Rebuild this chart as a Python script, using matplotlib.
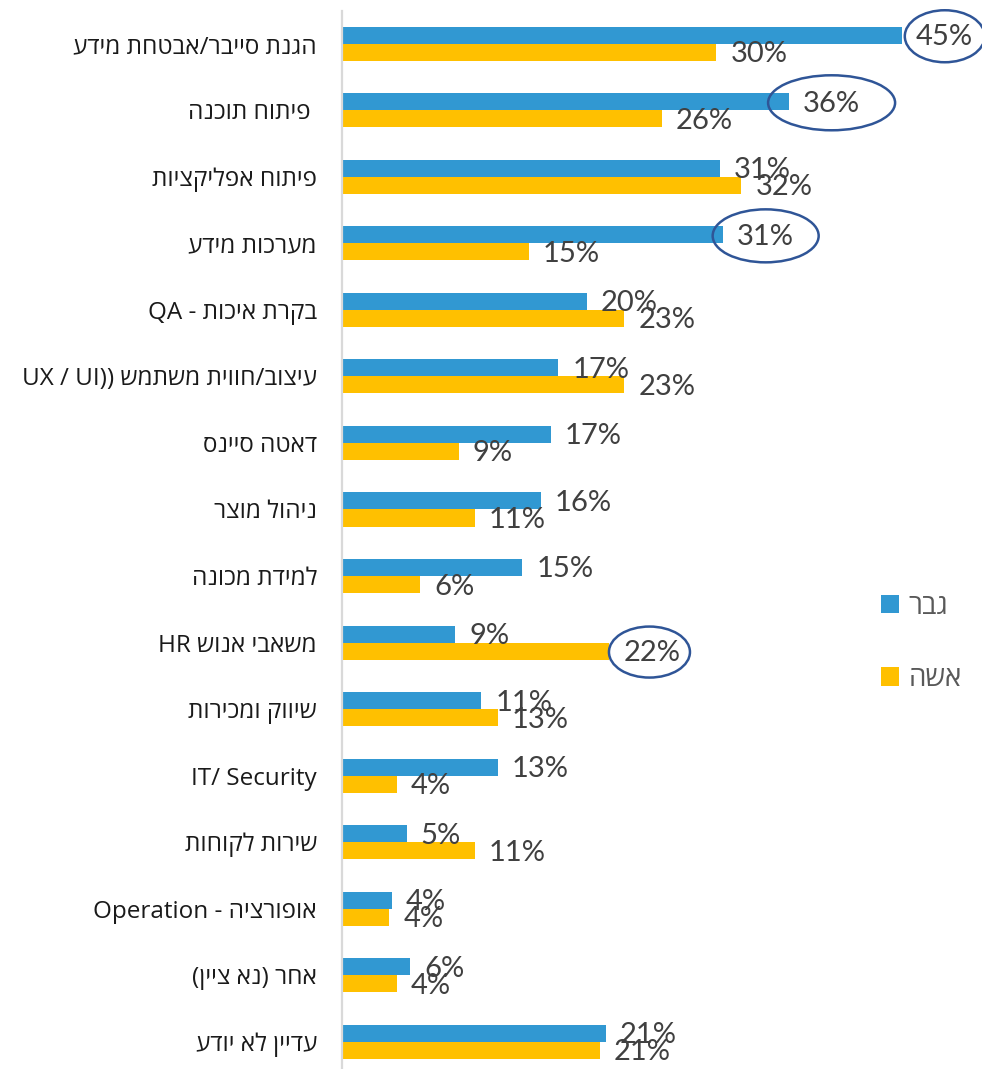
import matplotlib.pyplot as plt
from matplotlib.patches import Ellipse
from matplotlib.transforms import IdentityTransform


def rtl(s):
    # matplotlib has no bidi support: reverse hebrew and mirror brackets
    swap = {"(": ")", ")": "("}
    return "".join(swap.get(c, c) for c in s[::-1])


# -----------------------------
# data
# -----------------------------
categories = [
    rtl("הגנת סייבר/אבטחת מידע"),
    rtl(" פיתוח תוכנה"),
    rtl("פיתוח אפליקציות"),
    rtl("מערכות מידע"),
    "QA - " + rtl("בקרת איכות"),
    "UX / UI)) " + rtl("עיצוב/חווית משתמש"),
    rtl("דאטה סיינס"),
    rtl("ניהול מוצר"),
    rtl("למידת מכונה"),
    "HR " + rtl("משאבי אנוש"),
    rtl("שיווק ומכירות"),
    "IT/ Security",
    rtl("שירות לקוחות"),
    "Operation - " + rtl("אופורציה"),
    rtl("אחר (נא ציין)"),
    rtl("עדיין לא יודע"),
]

men = [45.0, 35.9, 30.4, 30.6, 19.7, 17.4, 16.8, 16.0, 14.5, 9.1, 11.2, 12.5, 5.2, 4.0, 5.5, 21.2]
women = [30.1, 25.7, 32.1, 15.0, 22.7, 22.7, 9.4, 10.7, 6.3, 21.5, 12.5, 4.4, 10.7, 3.8, 4.4, 20.7]

men_labels = ["45%", "36%", "31%", "31%", "20%", "17%", "17%", "16%", "15%", "9%", "11%", "13%", "5%", "4%", "6%", "21%"]
women_labels = ["30%", "26%", "32%", "15%", "23%", "23%", "9%", "11%", "6%", "22%", "13%", "4%", "11%", "4%", "4%", "21%"]

series_names = [rtl("גבר"), rtl("אשה")]

# labels that are circled: (category index, series 0=men 1=women, dx px, width px, height px)
circled = [(0, 0, 43, 80, 52), (1, 0, 43, 127, 55), (3, 0, 43, 106, 53), (9, 1, 40, 81, 51)]

# -----------------------------
# plot
# -----------------------------
blue = "#3198D2"
yellow = "#FFC000"
label_col = "#404040"

fig = plt.figure(figsize=(9.82, 10.69), dpi=100)
ax = fig.add_axes([342 / 982, -6 / 1069, 622 / 982, 1064.5 / 1069])

h = 0.256
y = list(range(len(categories)))
ax.barh([i - h / 2 for i in y], men, height=h, color=blue, label=series_names[0])
ax.barh([i + h / 2 for i in y], women, height=h, color=yellow, label=series_names[1])

ax.set_xlim(0, 50)
ax.set_ylim(len(categories) - 0.5, -0.5)

ax.set_yticks(y)
ax.set_yticklabels(categories, family=["Open Sans", "DejaVu Sans"], fontsize=17.5, color="#1a1a1a")
ax.tick_params(axis="y", length=0, pad=18)
ax.set_xticks([])

for s in ["top", "right", "bottom"]:
    ax.spines[s].set_visible(False)
ax.spines["left"].set_color("#D9D9D9")
ax.spines["left"].set_linewidth(1.6)

for i in y:
    ax.annotate(men_labels[i], (men[i], i - h / 2), xytext=(14, -2), textcoords="offset pixels",
                ha="left", va="center", fontsize=21, family="Lato", color=label_col)
    ax.annotate(women_labels[i], (women[i], i + h / 2), xytext=(14, -2), textcoords="offset pixels",
                ha="left", va="center", fontsize=21, family="Lato", color=label_col)

for i, s, dx, w, hh in circled:
    v = men[i] if s == 0 else women[i]
    yy = i - h / 2 if s == 0 else i + h / 2
    cx, cy = ax.transData.transform((v, yy))
    e = Ellipse((cx + dx, cy - 1), w, hh, transform=IdentityTransform(), fill=False,
                edgecolor="#2F5597", linewidth=1.8, clip_on=False)
    fig.add_artist(e)

leg = fig.legend(loc="center left", bbox_to_anchor=(856 / 982, 1 - 643 / 1069), frameon=False,
                 handlelength=0.65, handleheight=0.65, handletextpad=0.35, labelspacing=1.6,
                 prop={"family": ["Open Sans", "DejaVu Sans"], "size": 20})
for t in leg.get_texts():
    t.set_color("#595959")

plt.savefig("out.png", dpi=100)
